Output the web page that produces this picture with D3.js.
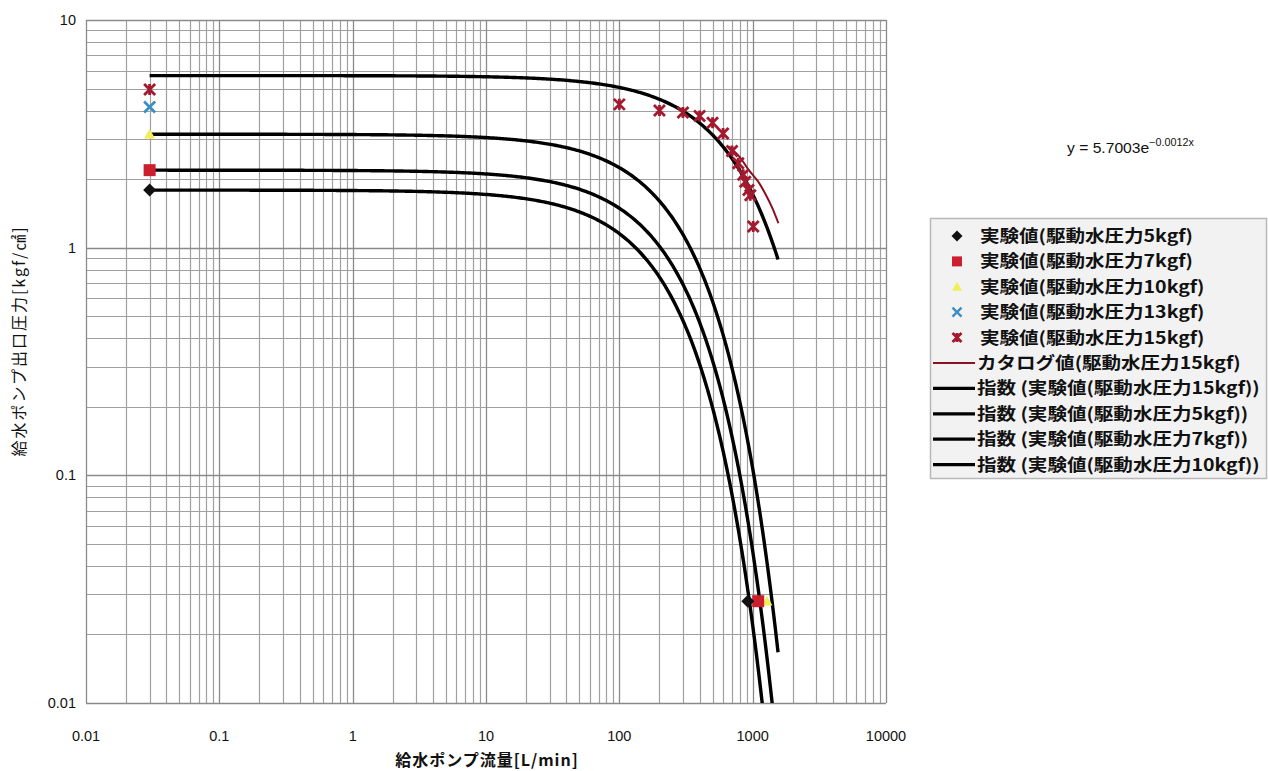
<!DOCTYPE html>
<html><head><meta charset="utf-8">
<script src="https://cdn.jsdelivr.net/npm/d3@7"></script>
<style>
html,body{margin:0;padding:0;background:#fff;}
svg{display:block;}
</style></head>
<body>
<svg id="c" width="1268" height="771"></svg>
<script>
// ---- data ----
const xTicks = [0.01, 0.1, 1, 10, 100, 1000, 10000];
const xTickLabels = ["0.01", "0.1", "1", "10", "100", "1000", "10000"];
const yTicks = [0.01, 0.1, 1, 10];
const yTickLabels = ["0.01", "0.1", "1", "10"];

const p5x = [0.03, 920];   const p5y = [1.79, 0.028];
const p7x = [0.03, 1100];  const p7y = [2.19, 0.028];
const p10x = [0.03, 1280]; const p10y = [3.15, 0.028];
const p13x = [0.03];       const p13y = [4.15];
const p15x = [0.03, 100, 200, 300, 400, 500, 600, 700, 780, 850, 880, 930, 960, 1010];
const p15y = [4.95, 4.26, 4.0, 3.92, 3.79, 3.54, 3.17, 2.66, 2.35, 2.09, 1.95, 1.79, 1.70, 1.24];

const catX = [660, 800, 930, 1100, 1240, 1400, 1560];
const catY = [2.78, 2.5, 2.2, 1.95, 1.73, 1.5, 1.28];

// exponential trendlines y = a * exp(-b x)
const trendNames = ["15kgf", "5kgf", "7kgf", "10kgf"];
const trendA = [5.7003, 1.79, 2.19, 3.15];
const trendB = [0.0012, 0.0044, 0.00385, 0.00338];
const trendX0 = [0.03, 0.03, 0.03, 0.03];
const trendX1 = [1550, 1550, 1550, 1550];

const legendLabels = [
  "実験値(駆動水圧力5kgf)",
  "実験値(駆動水圧力7kgf)",
  "実験値(駆動水圧力10kgf)",
  "実験値(駆動水圧力13kgf)",
  "実験値(駆動水圧力15kgf)",
  "カタログ値(駆動水圧力15kgf)",
  "指数 (実験値(駆動水圧力15kgf))",
  "指数 (実験値(駆動水圧力5kgf))",
  "指数 (実験値(駆動水圧力7kgf))",
  "指数 (実験値(駆動水圧力10kgf))"
];

// ---- drawing ----
const svg = d3.select("#c");
const L = 86, R = 886, T = 20, B = 703;
const x = d3.scaleLog().domain([0.01, 10000]).range([L, R]);
const y = d3.scaleLog().domain([0.01, 10]).range([B, T]);
const JP = "'Noto Sans CJK JP','Noto Sans',sans-serif";
const LAT = "'Liberation Sans',Arial,sans-serif";

svg.append("defs").append("clipPath").attr("id","clip")
  .append("rect").attr("x",L).attr("y",T).attr("width",R-L).attr("height",B-T);

// grid
const g = svg.append("g");
const xMinor = [], yMinor = [];
for (let e=-2; e<4; e++) for (let k=2; k<10; k++) xMinor.push(k*Math.pow(10,e));
for (let e=-2; e<1; e++) for (let k=2; k<10; k++) yMinor.push(k*Math.pow(10,e));
g.selectAll(".vx").data(xMinor).join("line")
  .attr("x1",d=>Math.round(x(d))+0.5).attr("x2",d=>Math.round(x(d))+0.5)
  .attr("y1",T).attr("y2",B).attr("stroke","#a0a0a0").attr("stroke-width",1.2);
g.selectAll(".hy").data(yMinor).join("line")
  .attr("y1",d=>Math.round(y(d))+0.5).attr("y2",d=>Math.round(y(d))+0.5)
  .attr("x1",L).attr("x2",R).attr("stroke","#a0a0a0").attr("stroke-width",1.2);
g.selectAll(".vM").data(xTicks).join("line")
  .attr("x1",d=>Math.round(x(d))+0.5).attr("x2",d=>Math.round(x(d))+0.5)
  .attr("y1",T).attr("y2",B).attr("stroke","#8a8a8a").attr("stroke-width",1.3);
g.selectAll(".hM").data(yTicks).join("line")
  .attr("y1",d=>Math.round(y(d))+0.5).attr("y2",d=>Math.round(y(d))+0.5)
  .attr("x1",L).attr("x2",R).attr("stroke","#8a8a8a").attr("stroke-width",1.3);

// axis labels
svg.append("g").selectAll("text").data(xTicks).join("text")
  .attr("x",d=>x(d)).attr("y",741).attr("text-anchor","middle")
  .attr("font-family",LAT).attr("font-size",14.5).attr("fill","#111")
  .text((d,i)=>xTickLabels[i]);
svg.append("g").selectAll("text").data(yTicks).join("text")
  .attr("x",76).attr("y",d=>y(d)+5).attr("text-anchor","end")
  .attr("font-family",LAT).attr("font-size",14.5).attr("fill","#111")
  .text((d,i)=>yTickLabels[i]);

svg.append("text").attr("x",487).attr("y",766).attr("text-anchor","middle")
  .attr("font-family",JP).attr("font-weight","bold").attr("font-size",16)
  .attr("letter-spacing",1).attr("fill","#111")
  .text("給水ポンプ流量[L/min]");
svg.append("text").attr("transform","translate(25,341) rotate(-90)")
  .attr("text-anchor","middle").attr("font-family",JP).attr("font-size",16)
  .attr("letter-spacing",2).attr("fill","#111")
  .text("給水ポンプ出口圧力[kgf/㎠]");

// plot content
const plot = svg.append("g").attr("clip-path","url(#clip)");
const line = d3.line().x(d=>x(d[0])).y(d=>y(d[1]));

// trendlines
trendA.forEach((a,i)=>{
  const b = trendB[i];
  const lx0 = Math.log10(trendX0[i]), lx1 = Math.log10(trendX1[i]);
  const pts = d3.range(0, 401).map(j=>{
    const xv = Math.pow(10, lx0 + (lx1-lx0)*j/400);
    return [xv, Math.max(a*Math.exp(-b*xv), 1e-4)];
  });
  plot.append("path").attr("d", line(pts)).attr("fill","none")
    .attr("stroke","#000").attr("stroke-width",3.4);
});

// catalog line
plot.append("path").attr("d", d3.line().curve(d3.curveCatmullRom).x(d=>x(d[0])).y(d=>y(d[1]))(catX.map((v,i)=>[v,catY[i]])))
  .attr("fill","none").attr("stroke","#8b1020").attr("stroke-width",2);

// markers
function diamond(sel, px, py, s, c){ sel.append("path").attr("d",`M${px},${py-s}L${px+s},${py}L${px},${py+s}L${px-s},${py}Z`).attr("fill",c); }
function square(sel, px, py, s, c){ sel.append("rect").attr("x",px-s).attr("y",py-s).attr("width",2*s).attr("height",2*s).attr("fill",c); }
function tri(sel, px, py, s, c){ sel.append("path").attr("d",`M${px},${py-s}L${px+s},${py+s*0.8}L${px-s},${py+s*0.8}Z`).attr("fill",c); }
function cross(sel, px, py, s, c, w){ sel.append("path").attr("d",`M${px-s},${py-s}L${px+s},${py+s}M${px-s},${py+s}L${px+s},${py-s}`).attr("stroke",c).attr("stroke-width",w).attr("fill","none"); }
function star(sel, px, py, s, c){ sel.append("path").attr("d",`M${px-s},${py-s}L${px+s},${py+s}M${px-s},${py+s}L${px+s},${py-s}M${px},${py-s}L${px},${py+s}`).attr("stroke",c).attr("stroke-width",2.8).attr("fill","none"); }

const mk = svg.append("g");
p15x.forEach((v,i)=>star(mk, x(v), y(p15y[i]), 5.5, "#a3192e"));
p13x.forEach((v,i)=>cross(mk, x(v), y(p13y[i]), 5.5, "#3d8fc2", 2.8));
p10x.forEach((v,i)=>tri(mk, x(v), y(p10y[i]), 5.5, "#f2ee5a"));
p7x.forEach((v,i)=>square(mk, x(v), y(p7y[i]), 6, "#cc1f2e"));
p5x.forEach((v,i)=>diamond(mk, x(v), y(p5y[i]), 6.5, "#111"));

// equation
const eq = svg.append("text").attr("transform","translate(1067,153) scale(1.08,1)")
  .attr("font-family",LAT).attr("font-size",14.5).attr("fill","#111");
eq.append("tspan").text("y = 5.7003e");
eq.append("tspan").attr("dy",-7).attr("font-size",10).text("−0.0012x");

// legend
const lg = svg.append("g");
lg.append("rect").attr("x",930.5).attr("y",218.5).attr("width",336).attr("height",260)
  .attr("fill","#f2f2f2").attr("stroke","#b8b8b8").attr("stroke-width",1.5);
legendLabels.forEach((t,i)=>{
  const cy = 236 + i*25.4;
  const mx = 957;
  if (i===0) diamond(lg, mx, cy, 5.5, "#111");
  else if (i===1) square(lg, mx, cy, 5, "#cc1f2e");
  else if (i===2) tri(lg, mx, cy, 5, "#f2ee5a");
  else if (i===3) cross(lg, mx, cy, 4.5, "#3d8fc2", 2.4);
  else if (i===4) star(lg, mx, cy, 4.5, "#a3192e");
  else if (i===5) lg.append("line").attr("x1",933).attr("x2",975).attr("y1",cy).attr("y2",cy).attr("stroke","#8b1020").attr("stroke-width",2);
  else lg.append("line").attr("x1",933).attr("x2",975).attr("y1",cy).attr("y2",cy).attr("stroke","#000").attr("stroke-width",3.2);
  lg.append("text").attr("transform",`translate(${i>=5 ? 977 : 980},${cy+6}) scale(1.15,1)`)
    .attr("font-family",JP).attr("font-weight","bold").attr("font-size",17).attr("fill","#111")
    .text(t);
});
</script>
</body></html>
